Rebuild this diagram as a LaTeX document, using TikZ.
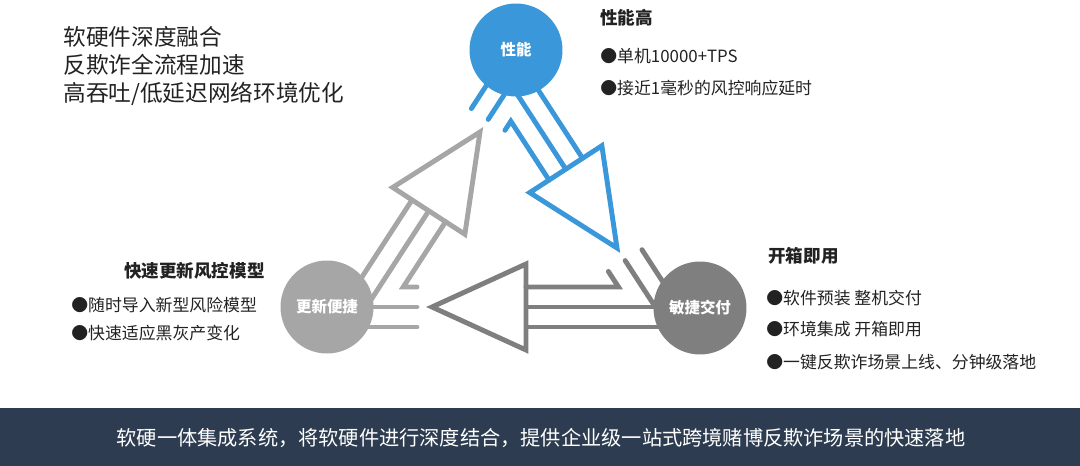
\documentclass[tikz,border=0pt]{standalone}
\usepackage{fontspec}
\setmainfont{Noto Sans CJK SC}
\usepackage{xcolor}
\usepackage{tikz}
\usetikzlibrary{positioning, calc}

\definecolor{perfblue}{HTML}{3A97DA}
\definecolor{updgray}{HTML}{A6A6A6}
\definecolor{delgray}{HTML}{7F7F7F}
\definecolor{barnavy}{HTML}{2D3C50}
\definecolor{txtgray}{HTML}{222222}

\begin{document}
\begin{tikzpicture}[x=0.02cm, y=-0.02cm,
    band/.style={line width=2.8pt, line cap=round},
    head/.style={line width=2.8pt, fill=white},
    hub/.style={circle, minimum size=1.86cm, inner sep=0pt, text=white, font=\fontsize{8.8}{10}\selectfont\bfseries},
    hint/.style={anchor=west, inner sep=0pt, text=txtgray, font=\fontsize{9.6}{11}\selectfont},
    ttl/.style={anchor=west, inner sep=0pt, text=txtgray, font=\fontsize{10}{12}\selectfont\bfseries}]
  \useasboundingbox (0,0) rectangle (1080,466);

  % update -> performance
  \begin{scope}[shift={(480,132)}, rotate=57, color=updgray]
    \foreach \o in {0,-20} {
      \draw[band] (-94,\o) -- (-215,\o);
      \draw[band, perfblue] (15,\o) -- (60,\o);
    }
    \draw[head] (0,0) -- (-94,43) -- (-94,-43) -- cycle;
    \coordinate (grin) at (-94,20);
    \coordinate (grout) at (15,20);
  \end{scope}

  % performance -> delivery
  \begin{scope}[shift={(617,248)}, rotate=-57, color=perfblue]
    \foreach \o in {0,-20} {
      \draw[band] (-94,\o) -- (-200,\o);
      \draw[band, delgray] (15,\o) -- (80,\o);
    }
    \draw[head] (0,0) -- (-94,43) -- (-94,-43) -- cycle;
    \coordinate (blin) at (-94,20);
    \coordinate (blout) at (15,20);
  \end{scope}

  % delivery -> update
  \begin{scope}[shift={(432,307)}, rotate=180, color=delgray]
    \foreach \o in {0,-20} {
      \draw[band] (-94,\o) -- (-258,\o);
      \draw[band, updgray] (15,\o) -- (92,\o);
    }
    \draw[head] (0,0) -- (-94,43) -- (-94,-43) -- cycle;
    \coordinate (dkin) at (-94,20);
    \coordinate (dkout) at (15,20);
  \end{scope}

  % inner bands bend round each hub
  \draw[band, perfblue] (grout) -- (intersection of grin--grout and blin--blout) -- (blin);
  \draw[band, delgray] (blout) -- (intersection of blin--blout and dkin--dkout) -- (dkin);
  \draw[band, updgray] (dkout) -- (intersection of dkin--dkout and grin--grout) -- (grin);

  \node[hub, fill=perfblue] (perf) at (516,50) {性能};
  \node[hub, fill=updgray] (upd) at (327,307) {更新便捷};
  \node[hub, fill=delgray] (deliv) at (700,308) {敏捷交付};

  \node[anchor=west, inner sep=0pt, align=left, text=txtgray, font=\fontsize{12.9}{15.9}\selectfont] (motto) at (63,66) {软硬件深度融合\\反欺诈全流程加速\\高吞吐/低延迟网络环境优化};

  \node[ttl] (perfttl) at (600,18) {性能高};
  \node[hint] (perf1) at (600,56) {●单机10000+TPS};
  \node[hint] (perf2) at (600,88) {●接近1毫秒的风控响应延时};

  \node[ttl] (delttl) at (768,256) {开箱即用};
  \node[hint] (del1) at (766,298) {●软件预装\ 整机交付};
  \node[hint] (del2) at (766,329) {●环境集成\ 开箱即用};
  \node[hint] (del3) at (766,362) {●一键反欺诈场景上线、分钟级落地};

  \node[ttl, anchor=east] (updttl) at (265,271) {快速更新风控模型};
  \node[hint] (upd1) at (71,305) {●随时导入新型风险模型};
  \node[hint] (upd2) at (71,333) {●快速适应黑灰产变化};

  \fill[barnavy] (0,408) rectangle (1080,466);
  \node[text=white, font=\fontsize{11.5}{13}\selectfont] (slogan) at (541,438) {软硬一体集成系统，将软硬件进行深度结合，提供企业级一站式跨境赌博反欺诈场景的快速落地};
\end{tikzpicture}
\end{document}
